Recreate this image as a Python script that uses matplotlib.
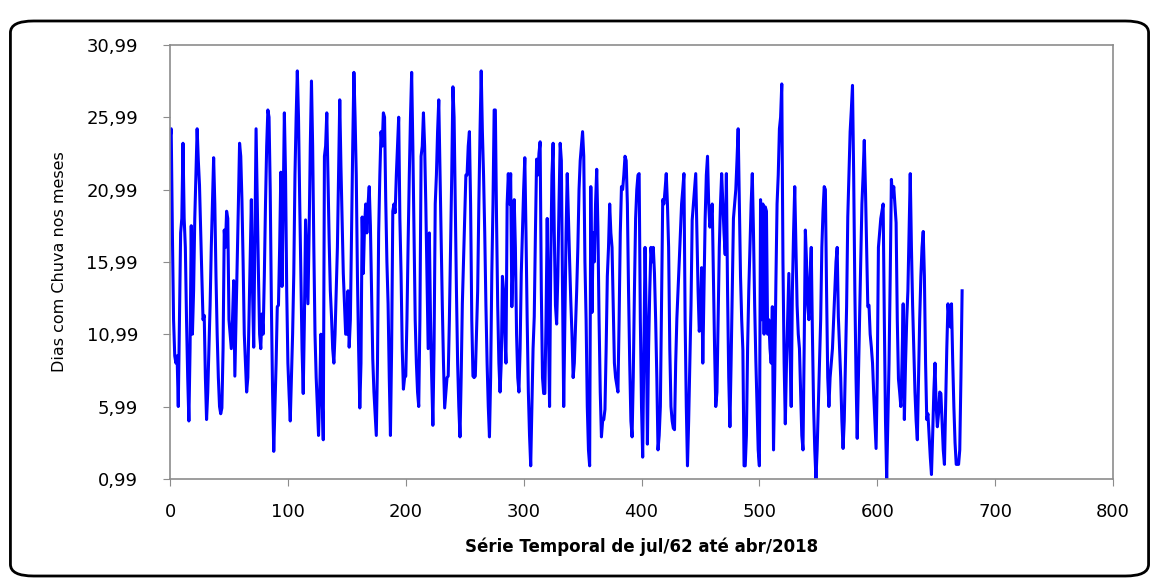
import numpy as np
import matplotlib
matplotlib.use("Agg")
import matplotlib.pyplot as plt
from matplotlib.patches import FancyBboxPatch

# --- Monthly rainy days, jul/62 onwards ---
rain_days = [
    24.5, 25.2, 18.0, 12.0, 9.5, 9.0, 9.5, 6.0, 12.0, 18.0, 19.0, 24.2,
    19.0, 17.0, 12.0, 8.0, 5.0, 10.0, 18.5, 11.0, 14.0, 19.0, 22.0, 25.2,
    23.0, 21.3, 18.0, 15.0, 12.0, 12.3, 8.0, 5.1, 7.0, 10.0, 13.0, 17.0,
    20.0, 23.2, 20.0, 15.0, 11.0, 8.0, 6.0, 5.5, 5.9, 10.0, 18.2, 17.0,
    19.5, 19.0, 12.0, 11.0, 10.0, 12.0, 14.7, 8.1, 12.0, 16.0, 20.0, 24.2,
    23.3, 20.3, 16.0, 11.0, 9.0, 7.0, 8.0, 12.0, 16.0, 20.3, 14.0, 10.1,
    18.0, 25.2, 20.0, 15.2, 11.0, 10.0, 12.4, 11.0, 15.0, 20.0, 24.0, 26.5,
    26.0, 21.0, 13.0, 7.0, 2.9, 6.0, 9.0, 12.9, 13.0, 17.0, 22.2, 14.3,
    20.0, 26.3, 22.0, 14.0, 9.0, 6.9, 5.0, 8.0, 11.0, 15.2, 22.0, 26.0,
    29.2, 26.0, 20.3, 15.2, 10.0, 6.9, 12.0, 18.9, 16.0, 13.1, 18.0, 24.0,
    28.5, 24.0, 17.0, 11.0, 8.0, 6.0, 4.0, 7.0, 11.0, 7.0, 3.7, 23.3,
    24.0, 26.3, 22.0, 17.5, 14.0, 12.2, 10.0, 9.0, 11.0, 14.0, 17.0, 22.0,
    27.2, 22.6, 19.0, 15.2, 13.0, 11.0, 11.0, 14.0, 10.1, 12.0, 18.0, 24.0,
    29.1, 26.0, 22.0, 15.0, 10.0, 5.9, 9.0, 19.1, 15.2, 18.4, 20.0, 18.0,
    20.0, 21.2, 18.5, 14.0, 9.3, 7.0, 5.5, 4.0, 9.0, 18.0, 22.0, 25.0,
    24.0, 26.3, 26.0, 20.3, 16.0, 13.1, 8.0, 4.0, 10.0, 19.5, 20.0, 19.4,
    22.0, 24.0, 26.0, 19.0, 15.2, 10.0, 7.2, 8.0, 8.1, 12.0, 17.3, 22.0,
    26.0, 29.1, 24.0, 18.0, 12.0, 9.0, 7.0, 6.0, 12.0, 23.3, 24.0, 26.3,
    24.0, 20.0, 15.0, 10.0, 18.0, 12.0, 8.0, 4.7, 10.0, 20.0, 22.0, 25.0,
    27.2, 22.5, 18.0, 13.0, 9.0, 5.9, 7.0, 8.0, 8.1, 12.0, 17.0, 22.0,
    28.1, 26.0, 20.0, 14.0, 9.0, 6.0, 3.9, 8.0, 13.1, 16.0, 19.0, 22.0,
    22.0, 24.0, 25.0, 20.0, 12.0, 8.1, 8.0, 8.1, 11.0, 14.0, 20.0, 25.0,
    29.2, 25.0, 22.0, 18.0, 13.0, 9.0, 6.0, 3.9, 8.0, 15.2, 20.0, 26.5,
    26.5, 19.0, 13.0, 9.0, 7.0, 9.0, 15.0, 14.0, 11.0, 9.0, 20.0, 22.1,
    20.0, 22.1, 12.9, 16.0, 20.3, 17.0, 11.0, 8.0, 7.0, 10.0, 15.2, 18.0,
    21.0, 23.2, 18.0, 12.0, 7.0, 4.0, 1.9, 6.0, 10.0, 12.2, 18.0, 23.1,
    22.0, 23.5, 24.3, 14.0, 8.0, 6.9, 6.9, 12.0, 19.0, 12.0, 6.0, 16.0,
    22.0, 24.2, 18.0, 13.0, 11.7, 15.0, 20.0, 24.2, 23.0, 14.0, 6.0, 12.0,
    18.0, 22.1, 19.0, 16.1, 13.3, 11.0, 8.0, 9.0, 11.5, 14.0, 17.0, 21.0,
    23.0, 24.0, 25.0, 23.3, 16.0, 12.0, 6.0, 3.0, 1.9, 21.2, 12.5, 18.0,
    16.0, 20.0, 22.4, 18.4, 12.0, 7.0, 3.9, 5.0, 5.1, 5.8, 10.0, 15.0,
    17.0, 20.0, 18.0, 17.0, 13.0, 9.0, 8.0, 7.5, 7.0, 12.0, 18.0, 21.2,
    21.0, 22.0, 23.3, 23.0, 20.0, 14.0, 9.0, 5.0, 3.9, 8.0, 14.0, 19.0,
    21.0, 22.0, 22.1, 12.0, 6.0, 2.5, 10.0, 17.0, 12.0, 3.4, 10.0, 14.0,
    17.0, 16.0, 17.0, 15.2, 12.0, 8.0, 3.0, 4.0, 6.0, 13.0, 20.3, 20.0,
    21.0, 22.1, 20.0, 17.0, 10.0, 6.0, 5.0, 4.5, 4.4, 9.0, 12.1, 14.0,
    16.0, 18.0, 20.0, 21.0, 22.1, 12.0, 6.0, 1.9, 5.0, 9.0, 13.0, 18.9,
    20.0, 21.0, 22.1, 18.0, 14.0, 11.2, 12.0, 15.6, 9.0, 14.0, 19.0, 22.0,
    23.3, 20.0, 18.4, 19.0, 20.0, 15.0, 10.0, 6.0, 7.0, 12.0, 17.0, 20.0,
    22.1, 20.0, 18.0, 16.5, 22.1, 14.0, 8.0, 4.6, 9.0, 14.0, 19.0, 20.0,
    21.0, 23.0, 25.2, 20.0, 15.0, 12.0, 9.9, 1.9, 1.9, 4.0, 10.0, 14.0,
    17.0, 20.0, 22.1, 18.0, 13.0, 9.2, 6.0, 3.0, 1.9, 20.3, 12.0, 20.0,
    11.0, 19.8, 19.5, 11.0, 12.0, 10.0, 9.0, 12.9, 3.0, 8.0, 14.5, 20.0,
    22.0, 25.2, 26.0, 28.3, 16.0, 9.0, 4.8, 9.0, 12.0, 15.2, 10.0, 6.0,
    14.0, 18.0, 21.2, 17.0, 13.0, 11.0, 10.0, 7.0, 4.0, 3.0, 10.0, 18.2,
    16.0, 13.0, 12.0, 15.0, 17.0, 11.0, 6.0, 3.0, 0.99, 3.0, 6.0, 9.0,
    12.0, 17.0, 19.5, 21.2, 21.0, 14.0, 8.0, 6.0, 8.0, 9.0, 10.0, 12.0,
    14.0, 16.0, 17.0, 12.2, 10.0, 8.0, 5.0, 3.1, 5.0, 9.0, 12.9, 19.1,
    22.0, 25.0, 26.5, 28.2, 22.0, 14.0, 8.0, 3.8, 8.0, 12.0, 16.1, 20.0,
    22.0, 24.4, 21.0, 17.0, 12.9, 13.0, 11.0, 10.1, 9.0, 6.9, 5.0, 3.1,
    8.0, 17.0, 18.0, 19.0, 19.5, 20.0, 12.0, 5.0, 0.99, 5.0, 9.0, 15.0,
    21.7, 20.5, 21.2, 20.0, 18.7, 12.0, 7.9, 7.0, 6.0, 9.0, 13.1, 5.1,
    9.0, 12.0, 14.0, 18.0, 22.1, 17.0, 13.0, 9.9, 7.0, 5.0, 3.7, 8.0,
    12.0, 15.0, 17.0, 18.1, 15.0, 9.0, 5.1, 5.5, 4.0, 2.5, 1.3, 4.0,
    7.0, 9.0, 6.0, 4.6, 5.5, 7.0, 6.9, 5.0, 3.0, 2.0, 6.0, 10.0,
    13.1, 12.0, 11.5, 13.1, 9.2, 6.0, 3.5, 2.0, 2.0, 2.0, 3.0, 8.0, 14.0,
]

y_ticks = [0.99, 5.99, 10.99, 15.99, 20.99, 25.99, 30.99]
y_tick_labels = ["0,99", "5,99", "10,99", "15,99", "20,99", "25,99", "30,99"]
x_ticks = [0, 100, 200, 300, 400, 500, 600, 700, 800]

months = np.arange(len(rain_days))

fig = plt.figure(figsize=(11.59, 5.83), dpi=100)

# rounded chart-area border like the Excel export
border = FancyBboxPatch((0.009, 0.012), 0.982, 0.952,
                        boxstyle="round,pad=0,rounding_size=0.02",
                        transform=fig.transFigure, facecolor="none",
                        edgecolor="black", linewidth=2.0, zorder=-5)
fig.patches.append(border)

ax = fig.add_axes([0.1467, 0.1784, 0.8136, 0.7444])
ax.set_zorder(2)
ax.plot(months, rain_days, color="#0000ff", linewidth=2.2)

ax.set_xlim(0, 800)
ax.set_ylim(0.99, 30.99)
ax.set_xticks(x_ticks)
ax.set_yticks(y_ticks)
ax.set_yticklabels(y_tick_labels)

for side in ax.spines.values():
    side.set_color("#8c8c8c")
    side.set_linewidth(1.2)

ax.tick_params(axis="both", direction="out", length=5, color="#8c8c8c",
               labelsize=13, labelcolor="black")
ax.tick_params(axis="y", pad=18)
ax.tick_params(axis="x", pad=12)

ax.set_xlabel("Série Temporal de jul/62 até abr/2018", fontsize=12,
              fontweight="bold", labelpad=12)
ax.set_ylabel("Dias com Chuva nos meses", fontsize=11.5, labelpad=14)

fig.savefig("out.png", dpi=100)
